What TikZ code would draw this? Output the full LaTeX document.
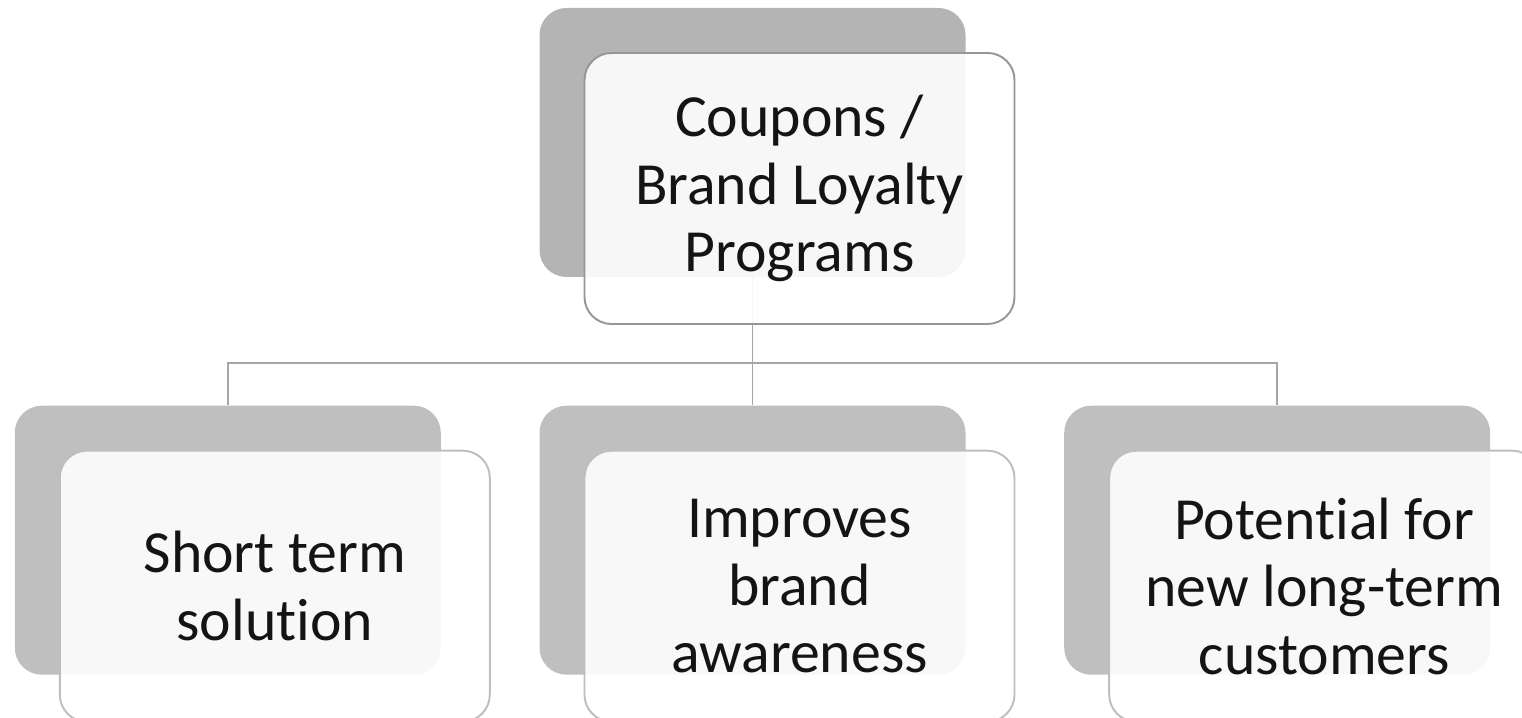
\documentclass[tikz,border=0pt]{standalone}
\usepackage{fontspec}
\setmainfont[Ligatures=NoCommon]{Carlito}
\usetikzlibrary{positioning,calc}
\definecolor{backtop}{RGB}{180,180,180}
\definecolor{backcol}{RGB}{191,191,191}
\definecolor{edgetop}{RGB}{150,150,150}
\definecolor{edgecol}{RGB}{190,190,190}
\definecolor{linkcol}{RGB}{166,166,166}
\definecolor{inkcol}{RGB}{20,20,20}

\begin{document}
\begin{tikzpicture}[
  every node/.style={font=\fontsize{34}{38.5}\selectfont, text=inkcol},
  %% grey backing plate behind each card
  back/.style={
    fill=#1, draw=none,
    rounded corners=0.54cm,
    minimum width=8.52cm, minimum height=5.38cm,
    inner sep=0pt
  },
  back/.default=backcol,
  %% see-through card with the text
  card/.style={
    draw=#1, line width=1.1pt,
    fill=white, fill opacity=0.9, text opacity=1,
    rounded corners=0.54cm,
    minimum width=8.60cm, minimum height=5.42cm,
    align=center, inner sep=0pt
  },
  card/.default=edgecol,
  link/.style={draw=linkcol, line width=1.1pt},
]

\useasboundingbox (0,0) rectangle (30.44,-14.36);

%%── Backing plates ───────────────────────────────────────────────────────────
\node[back=backtop] (top) at (15.05,-2.85) {};
\node[back, below=2.56cm of top] (mid) {};
\node[back, left=1.96cm of mid]  (lft) {};
\node[back, right=1.96cm of mid] (rgt) {};

%%── Tree lines (under the cards) ────────────────────────────────────────────
\coordinate (bus) at ($(top.south)+(0,-1.72)$);
\draw[link] (top.south) -- (bus);
\draw[link] (lft.north) |- (bus) -| (rgt.north);
\draw[link] (bus) -- (mid.north);

%%── Cards ────────────────────────────────────────────────────────────────────
\node[card=edgetop] (topc) at ($(top.center)+(0.94,-0.92)$)
  {Coupons /\\Brand Loyalty\\Programs};
\node[card] (lftc) at ($(lft.center)+(0.94,-0.92)$)
  {Short term\\solution};
\node[card] (midc) at ($(mid.center)+(0.94,-0.92)$)
  {Improves\\brand\\awareness};
\node[card] (rgtc) at ($(rgt.center)+(0.94,-0.92)$)
  {Potential for\\new long-term\\customers};

\end{tikzpicture}
\end{document}
